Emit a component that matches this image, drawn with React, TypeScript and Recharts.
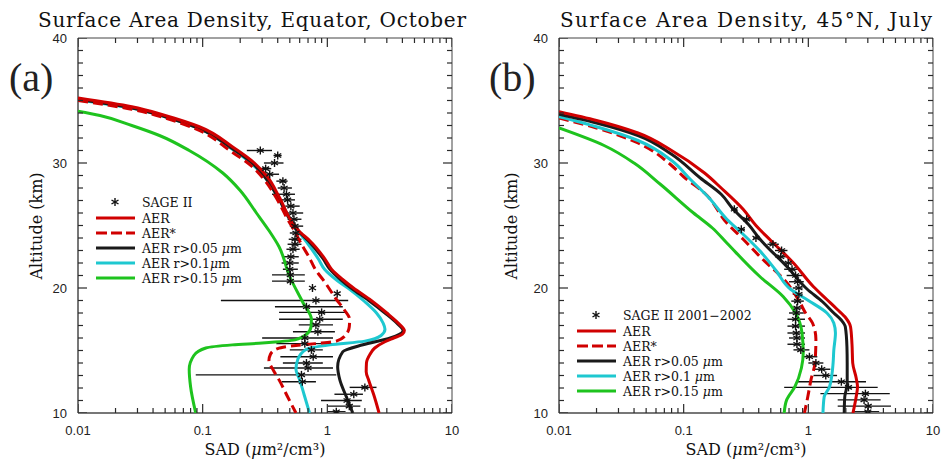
import { ComposedChart, Scatter, XAxis, YAxis, ErrorBar } from "recharts";

// [SAD, altitude km]
type Pt = [number, number];

const xTickLabels = ["0.01", "0.1", "1", "10"];
const decades = [0.01, 0.1, 1, 10];
const yTickLabels = [10, 20, 30, 40];

// ---- panel (a): Equator, October ----
const aerA: Pt[] = [
  [0.01, 35.2], [0.027, 34.5], [0.05, 33.8], [0.094, 32.9], [0.173, 31.3], [0.26, 30.0],
  [0.33, 28.9], [0.41, 27.3], [0.52, 25.3], [0.6, 24.5], [0.72, 23.8], [0.96, 22.3],
  [1.08, 21.5], [1.32, 20.7], [1.62, 20.0], [2.25, 19.0], [3.0, 18.0], [3.7, 17.2],
  [4.15, 16.6], [4.0, 16.3], [3.4, 16.0], [2.9, 15.7], [2.4, 15.2], [2.2, 14.7],
  [2.06, 14.0], [2.05, 13.3], [2.15, 12.6], [2.35, 11.5], [2.6, 10.0],
];
const aerStarA: Pt[] = [
  [0.01, 35.0], [0.027, 34.3], [0.05, 33.6], [0.094, 32.6], [0.165, 31.0], [0.25, 29.7],
  [0.31, 28.7], [0.39, 27.2], [0.48, 25.5], [0.55, 24.5], [0.62, 23.5], [0.72, 22.4],
  [0.8, 21.5], [0.95, 20.5], [1.18, 19.1], [1.38, 18.2], [1.51, 17.5], [1.5, 16.9],
  [1.42, 16.3], [1.18, 15.75], [0.8, 15.55], [0.56, 15.4], [0.4, 15.15], [0.35, 14.7],
  [0.34, 14.2], [0.37, 13.4], [0.41, 12.65], [0.48, 11.3], [0.56, 10.0],
];
const r005A: Pt[] = [
  [0.01, 35.1], [0.027, 34.4], [0.05, 33.7], [0.094, 32.75], [0.17, 31.2], [0.25, 30.0],
  [0.32, 28.8], [0.4, 27.3], [0.5, 25.5], [0.58, 24.6], [0.7, 23.8], [0.93, 22.3],
  [1.05, 21.5], [1.27, 20.7], [1.55, 20.0], [2.15, 19.0], [2.9, 18.0], [3.6, 17.2],
  [4.05, 16.6], [3.2, 16.0], [1.93, 15.46], [1.33, 14.9], [1.21, 13.7], [1.26, 12.65],
  [1.42, 11.3], [1.6, 10.0],
];
const r01A: Pt[] = [
  [0.01, 35.05], [0.027, 34.4], [0.05, 33.7], [0.094, 32.75], [0.17, 31.15], [0.25, 29.9],
  [0.32, 28.8], [0.4, 27.3], [0.5, 25.6], [0.58, 24.6], [0.68, 23.7], [0.85, 22.3],
  [0.95, 21.5], [1.2, 20.6], [1.51, 19.9], [2.0, 18.9], [2.48, 18.0], [2.8, 17.2],
  [2.9, 16.7], [2.7, 16.2], [2.0, 15.75], [1.05, 15.45], [0.68, 15.1], [0.58, 14.3],
  [0.56, 13.5], [0.6, 12.65], [0.65, 11.5], [0.72, 10.0],
];
const r015A: Pt[] = [
  [0.01, 34.15], [0.015, 33.8], [0.027, 33.0], [0.045, 32.2], [0.078, 31.0], [0.145, 29.2],
  [0.2, 27.8], [0.27, 26.0], [0.34, 24.6], [0.41, 23.3], [0.5, 20.9], [0.64, 18.8],
  [0.745, 17.5], [0.74, 16.9], [0.68, 16.3], [0.55, 15.85], [0.3, 15.6], [0.173, 15.45],
  [0.106, 15.2], [0.085, 14.6], [0.078, 13.5], [0.08, 12.1], [0.088, 10.0],
];
// SAGE II: [altitude, SAD, low, high]
const sageA: number[][] = [
  [31.0, 0.29, 0.226, 0.36], [30.6, 0.4, 0.37, 0.43], [30.0, 0.377, 0.31, 0.445],
  [29.55, 0.32, 0.277, 0.355], [29.1, 0.345, 0.295, 0.41], [28.55, 0.44, 0.39, 0.48],
  [28.0, 0.45, 0.4, 0.52], [27.5, 0.47, 0.36, 0.55], [27.05, 0.48, 0.42, 0.55],
  [26.55, 0.51, 0.46, 0.6], [26.0, 0.53, 0.45, 0.64], [25.5, 0.54, 0.48, 0.62],
  [24.95, 0.55, 0.5, 0.64], [24.4, 0.56, 0.5, 0.63], [23.9, 0.55, 0.49, 0.62],
  [23.5, 0.55, 0.48, 0.62], [23.1, 0.53, 0.47, 0.6], [22.5, 0.51, 0.44, 0.59],
  [22.0, 0.5, 0.43, 0.59], [21.5, 0.5, 0.44, 0.58], [21.05, 0.505, 0.36, 0.66],
  [20.55, 0.505, 0.36, 0.66], [20.0, 0.76, 0.76, 0.76], [19.55, 1.2, 1.2, 1.2],
  [19.0, 0.81, 0.14, 1.47], [18.5, 0.68, 0.38, 1.33], [18.05, 0.9, 0.41, 1.42],
  [17.5, 0.87, 0.41, 1.33], [17.05, 0.81, 0.59, 1.11], [16.5, 0.84, 0.53, 1.15],
  [16.0, 0.66, 0.3, 1.11], [15.55, 0.66, 0.39, 1.11], [15.05, 0.745, 0.5, 0.92],
  [14.5, 0.77, 0.42, 1.11], [14.0, 0.68, 0.44, 0.92], [13.6, 0.7, 0.31, 1.11],
  [13.05, 0.62, 0.088, 1.18], [12.5, 0.63, 0.43, 0.81], [12.05, 2.0, 1.51, 2.48],
  [11.5, 1.63, 1.14, 1.93], [11.0, 1.44, 0.89, 1.89], [10.55, 1.5, 1.01, 1.84],
  [10.1, 1.18, 1.0, 1.4],
];

// ---- panel (b): 45N, July ----
const aerB: Pt[] = [
  [0.01, 34.1], [0.02, 33.4], [0.043, 32.4], [0.08, 31.0], [0.147, 29.2], [0.2, 28.0],
  [0.3, 26.3], [0.38, 25.0], [0.5, 23.8], [0.76, 22.0], [1.1, 20.1], [1.4, 19.1],
  [1.7, 18.3], [2.0, 17.6], [2.18, 16.9], [2.24, 15.5], [2.27, 14.0], [2.42, 12.8],
  [2.48, 12.1], [2.42, 11.3], [2.28, 10.0],
];
const aerStarB: Pt[] = [
  [0.01, 33.6], [0.02, 32.8], [0.043, 31.6], [0.08, 29.8], [0.1, 28.9], [0.147, 27.6],
  [0.222, 25.2], [0.3, 23.9], [0.41, 22.5], [0.675, 20.4], [0.86, 18.8], [0.95, 18.0],
  [1.08, 17.2], [1.15, 15.9], [1.13, 14.0], [1.05, 12.65], [0.99, 11.3], [0.93, 10.0],
];
const r005B: Pt[] = [
  [0.01, 33.9], [0.02, 33.2], [0.043, 32.2], [0.08, 30.7], [0.136, 28.8], [0.2, 27.5],
  [0.25, 26.3], [0.33, 25.1], [0.41, 23.9], [0.675, 21.7], [0.98, 19.9], [1.3, 18.9],
  [1.6, 18.0], [1.85, 17.4], [1.98, 16.9], [2.04, 15.3], [2.05, 14.0], [2.05, 12.3],
  [1.96, 11.3], [1.94, 10.0],
];
const r01B: Pt[] = [
  [0.01, 33.7], [0.02, 32.9], [0.043, 31.8], [0.08, 30.2], [0.113, 28.7], [0.16, 27.2],
  [0.222, 25.5], [0.3, 24.3], [0.41, 22.95], [0.55, 21.4], [0.72, 19.9], [1.0, 19.0],
  [1.41, 18.0], [1.6, 17.2], [1.65, 16.4], [1.6, 15.0], [1.58, 14.0], [1.48, 12.1],
  [1.34, 11.3], [1.31, 10.0],
];
const r015B: Pt[] = [
  [0.01, 32.8], [0.023, 31.4], [0.04, 30.0], [0.065, 28.3], [0.12, 26.0], [0.17, 24.8],
  [0.222, 23.6], [0.41, 20.9], [0.63, 19.3], [0.79, 18.0], [0.89, 16.4], [0.91, 14.8],
  [0.88, 13.6], [0.78, 12.1], [0.67, 11.05], [0.64, 10.0],
];
const sageB: number[][] = [
  [26.3, 0.255, 0.24, 0.27], [25.5, 0.32, 0.3, 0.34], [24.7, 0.29, 0.27, 0.31],
  [24.0, 0.38, 0.36, 0.41], [23.5, 0.52, 0.47, 0.58], [23.0, 0.61, 0.54, 0.68],
  [22.5, 0.6, 0.54, 0.66], [22.0, 0.69, 0.62, 0.76], [21.5, 0.74, 0.64, 0.85],
  [21.0, 0.79, 0.67, 0.9], [20.5, 0.82, 0.7, 0.92], [20.0, 0.84, 0.75, 0.9],
  [19.5, 0.84, 0.75, 0.9], [18.95, 0.82, 0.73, 0.92], [18.4, 0.81, 0.73, 0.9],
  [18.0, 0.8, 0.7, 0.92], [17.5, 0.79, 0.68, 0.94], [16.95, 0.79, 0.68, 0.94],
  [16.4, 0.8, 0.68, 0.94], [16.0, 0.81, 0.7, 0.94], [15.5, 0.81, 0.68, 0.94],
  [15.05, 0.87, 0.76, 1.02], [14.5, 1.02, 0.9, 1.18], [14.0, 1.15, 1.0, 1.32],
  [13.5, 1.28, 1.12, 1.5], [13.0, 1.38, 1.1, 1.7], [12.5, 1.84, 0.82, 2.9],
  [12.05, 2.1, 0.64, 3.6], [11.55, 2.87, 1.25, 4.5], [11.05, 2.8, 1.72, 3.8],
  [10.55, 3.02, 1.72, 4.6], [10.1, 3.0, 2.3, 3.7],
];

const RED = "#d00000";
const BLACK = "#1a1a1a";
const CYAN = "#1ec8d0";
const GREEN = "#1ec31e";

const xMinor = decades
  .slice(0, 3)
  .flatMap((d) => [2, 3, 4, 5, 6, 7, 8, 9].map((m) => +(d * m).toPrecision(3)));
const yMinor = Array.from({ length: 31 }, (_, i) => 10 + i).filter((v) => v % 10 !== 0);

const labelFor = (v: number) => xTickLabels[decades.findIndex((d) => Math.abs(d - v) < 1e-9)];

const toRows = (pts: Pt[]) => pts.map(([sad, alt]) => ({ sad, alt }));
const toObs = (rows: number[][]) =>
  rows.map(([alt, sad, lo, hi]) => ({ sad, alt, err: [sad - lo, hi - sad] }));

// inward frame ticks, placed through the chart scales on all four sides
type Side = "b" | "t" | "l" | "r";
const frameTicks = [
  ...decades.map((v) => ({ sad: v, alt: 10, side: "b" as Side, len: 9 })),
  ...xMinor.map((v) => ({ sad: v, alt: 10, side: "b" as Side, len: 5 })),
  ...decades.map((v) => ({ sad: v, alt: 40, side: "t" as Side, len: 9 })),
  ...xMinor.map((v) => ({ sad: v, alt: 40, side: "t" as Side, len: 5 })),
  ...yTickLabels.map((v) => ({ sad: 0.01, alt: v, side: "l" as Side, len: 9 })),
  ...yMinor.map((v) => ({ sad: 0.01, alt: v, side: "l" as Side, len: 5 })),
  ...yTickLabels.map((v) => ({ sad: 10, alt: v, side: "r" as Side, len: 9 })),
  ...yMinor.map((v) => ({ sad: 10, alt: v, side: "r" as Side, len: 5 })),
];

const TickMark = (p: any) => {
  const { cx, cy, payload } = p;
  const { side, len } = payload;
  const d =
    side === "b" ? `M${cx},${cy}v${-len}` :
    side === "t" ? `M${cx},${cy}v${len}` :
    side === "l" ? `M${cx},${cy}h${len}` : `M${cx},${cy}h${-len}`;
  return <path d={d} stroke="#2a2a2a" strokeWidth={1.2} fill="none" />;
};

const numFont = { fontFamily: "Liberation Sans, Arial, sans-serif", fontSize: 13, fill: "#222" };
const serif = "DejaVu Serif, serif";
const Blank = () => <g />;

const BottomLabel = (p: any) => (
  <text x={p.x} y={p.y + 22} textAnchor="middle" {...numFont}>
    {labelFor(p.payload.value)}
  </text>
);
const LeftLabel = (p: any) => (
  <text x={p.x - 11} y={p.y + 4.5} textAnchor="end" {...numFont}>
    {p.payload.value}
  </text>
);

const Asterisk = ({ cx, cy }: { cx: number; cy: number }) => (
  <g stroke="#111" strokeWidth={1.4}>
    <line x1={cx} y1={cy - 4} x2={cx} y2={cy + 4} />
    <line x1={cx - 3.5} y1={cy - 2} x2={cx + 3.5} y2={cy + 2} />
    <line x1={cx - 3.5} y1={cy + 2} x2={cx + 3.5} y2={cy - 2} />
  </g>
);

type Curve = { name: string; pts: Pt[]; color: string; dash?: string };

const curvesA: Curve[] = [
  { name: "r015", pts: r015A, color: GREEN },
  { name: "r01", pts: r01A, color: CYAN },
  { name: "r005", pts: r005A, color: BLACK },
  { name: "aerStar", pts: aerStarA, color: RED, dash: "10 5" },
  { name: "aer", pts: aerA, color: RED },
];
const curvesB: Curve[] = [
  { name: "r015", pts: r015B, color: GREEN },
  { name: "aerStar", pts: aerStarB, color: RED, dash: "10 5" },
  { name: "r01", pts: r01B, color: CYAN },
  { name: "r005", pts: r005B, color: BLACK },
  { name: "aer", pts: aerB, color: RED },
];

const xCommon = {
  type: "number" as const,
  dataKey: "sad",
  scale: "log" as const,
  domain: [0.01, 10],
  allowDataOverflow: true,
  ticks: decades,
  interval: 0,
  height: 1,
  tickSize: 0,
  tickMargin: 0,
  tickLine: false,
};
const yCommon = {
  type: "number" as const,
  dataKey: "alt",
  domain: [10, 40],
  allowDataOverflow: true,
  ticks: yTickLabels,
  interval: 0,
  width: 1,
  tickSize: 0,
  tickMargin: 0,
  tickLine: false,
};

// every axis takes a 1px band (a zero-size axis is not drawn), hence the smaller margins
const Panel = ({
  curves,
  sage,
  left,
  right,
}: {
  curves: Curve[];
  sage: number[][];
  left: number;
  right: number;
}) => (
  <ComposedChart width={471} height={459} margin={{ top: 37, bottom: 45, left: left - 1, right: right - 1 }}>
    <XAxis {...xCommon} xAxisId="b" axisLine={{ stroke: "#777", strokeWidth: 2 }} tick={(p: any) => <BottomLabel {...p} />} />
    <XAxis {...xCommon} xAxisId="t" orientation="top" axisLine={{ stroke: "#444", strokeWidth: 1 }} tick={Blank} />
    <YAxis {...yCommon} yAxisId="l" axisLine={{ stroke: "#777", strokeWidth: 2 }} tick={(p: any) => <LeftLabel {...p} />} />
    <YAxis {...yCommon} yAxisId="r" orientation="right" axisLine={{ stroke: "#444", strokeWidth: 1 }} tick={Blank} />
    {curves.map((c) => (
      <Scatter
        key={c.name}
        xAxisId="b"
        yAxisId="l"
        data={toRows(c.pts)}
        fill={c.color}
        line={{ stroke: c.color, strokeWidth: 3, strokeDasharray: c.dash }}
        lineJointType="monotoneY"
        shape={() => <g />}
        isAnimationActive={false}
      />
    ))}
    <Scatter
      xAxisId="b"
      yAxisId="l"
      data={toObs(sage)}
      fill="#111"
      shape={(p: any) => <Asterisk cx={p.cx} cy={p.cy} />}
      isAnimationActive={false}
    >
      <ErrorBar direction="x" dataKey="err" width={0} stroke="#111" strokeWidth={1.4} isAnimationActive={false} />
    </Scatter>
    <Scatter
      xAxisId="b"
      yAxisId="l"
      data={frameTicks}
      fill="#2a2a2a"
      shape={(p: any) => <TickMark {...p} />}
      isAnimationActive={false}
    />
  </ComposedChart>
);

const legendRows = (x0: number, y0: number, sageLabel: string, r01Label: React.ReactNode) => {
  const rows: { label: React.ReactNode; color: string; dash?: string }[] = [
    { label: "AER", color: RED },
    { label: "AER*", color: RED, dash: "11 4" },
    { label: <>AER r&gt;0.05 <tspan fontStyle="italic">μ</tspan>m</>, color: BLACK },
    { label: r01Label, color: CYAN },
    { label: <>AER r&gt;0.15 <tspan fontStyle="italic">μ</tspan>m</>, color: GREEN },
  ];
  return (
    <g fontFamily={serif} fontSize={12.5} fill="#111">
      <Asterisk cx={x0 + 19} cy={y0} />
      <text x={x0 + 46} y={y0 + 4.5}>{sageLabel}</text>
      {rows.map((r, i) => {
        const y = y0 + 16 + i * 15;
        return (
          <g key={i}>
            <line x1={x0} x2={x0 + 39} y1={y} y2={y} stroke={r.color} strokeWidth={3} strokeDasharray={r.dash} />
            <text x={x0 + 46} y={y + 4.5}>{r.label}</text>
          </g>
        );
      })}
    </g>
  );
};

const sadLabel = (cx: number) => (
  <text x={cx} y={455} textAnchor="middle" fontFamily={serif} fontSize={16} fill="#111">
    SAD (<tspan fontStyle="italic">μ</tspan>m²/cm³)
  </text>
);
const altLabel = (x: number) => (
  <text x={x} y={226} transform={`rotate(-90 ${x} 226)`} textAnchor="middle" fontFamily={serif} fontSize={16} fill="#111">
    Altitude (km)
  </text>
);

export default function App() {
  return (
    <div style={{ position: "absolute", left: 0, top: 0, width: 942, height: 459, background: "#fff" }}>
      <div style={{ display: "flex" }}>
        <Panel curves={curvesA} sage={sageA} left={78} right={19} />
        <Panel curves={curvesB} sage={sageB} left={88} right={9} />
      </div>
      <svg width={942} height={459} style={{ position: "absolute", left: 0, top: 0, pointerEvents: "none" }}>
        <text x={252} y={27} textAnchor="middle" fontFamily={serif} fontSize={20} fill="#111" textLength={428} lengthAdjust="spacing">
          Surface Area Density, Equator, October
        </text>
        <text x={746} y={27} textAnchor="middle" fontFamily={serif} fontSize={20} fill="#111" textLength={372} lengthAdjust="spacing">
          Surface Area Density, 45°N, July
        </text>
        <text x={9} y={91} fontFamily="Liberation Serif, serif" fontSize={40} fill="#222">(a)</text>
        <text x={489} y={91} fontFamily="Liberation Serif, serif" fontSize={40} fill="#222">(b)</text>
        {altLabel(42)}
        {altLabel(517)}
        {sadLabel(265)}
        {sadLabel(746)}
        {legendRows(96, 202, "SAGE II", <>AER r&gt;0.1<tspan fontStyle="italic">μ</tspan>m</>)}
        {legendRows(577, 315, "SAGE II 2001−2002", <>AER r&gt;0.1 <tspan fontStyle="italic">μ</tspan>m</>)}
      </svg>
    </div>
  );
}
